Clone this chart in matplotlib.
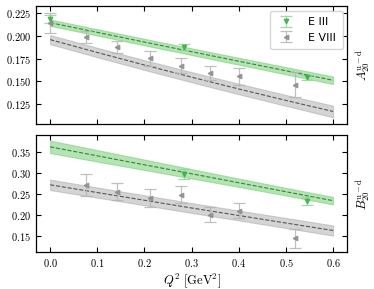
import numpy as np
import matplotlib
matplotlib.use("Agg")
from matplotlib import pyplot as plt
from matplotlib.ticker import FuncFormatter, MultipleLocator

plt.rcParams['mathtext.fontset'] = 'cm'
plt.rcParams['font.family'] = ['DejaVu Sans']

# ---- data ----
# E III (green) points
q2_e3_A = [0.0, 0.283, 0.545]
A_e3 = [0.2187, 0.1875, 0.1544]
A_e3_err = [0.004, 0.0033, 0.003]
q2_e3_B = [0.283, 0.545]
B_e3 = [0.298, 0.2338]
B_e3_err = [0.011, 0.010]

# E VIII (gray) points
q2_e8_A = [0.0, 0.075, 0.142, 0.212, 0.277, 0.340, 0.401, 0.520]
A_e8 = [0.2145, 0.1990, 0.1880, 0.1754, 0.1674, 0.1595, 0.1555, 0.1465]
A_e8_err = [0.0107, 0.007, 0.0068, 0.008, 0.0086, 0.0075, 0.0095, 0.0138]
q2_e8_B = [0.075, 0.142, 0.212, 0.277, 0.340, 0.401, 0.520]
B_e8 = [0.2715, 0.2555, 0.2396, 0.2483, 0.2007, 0.2096, 0.1443]
B_e8_err = [0.026, 0.021, 0.0216, 0.0208, 0.0173, 0.018, 0.023]

# fit bands (centre, half width) at these Q^2 nodes
q2_band = [0.0, 0.1, 0.2, 0.3, 0.4, 0.5, 0.6]
A_e3_band = [0.2147, 0.2040, 0.1933, 0.1827, 0.1722, 0.1617, 0.1512]
A_e3_bw = [0.0035, 0.0035, 0.0036, 0.0037, 0.0038, 0.0040, 0.0042]
A_e8_band = [0.1960, 0.1818, 0.1680, 0.1546, 0.1416, 0.1290, 0.1168]
A_e8_bw = [0.0050, 0.0052, 0.0054, 0.0056, 0.0058, 0.0060, 0.0064]
B_e3_band = [0.3630, 0.3415, 0.3200, 0.2985, 0.2770, 0.2555, 0.2340]
B_e3_bw = [0.0150, 0.0138, 0.0125, 0.0112, 0.0100, 0.0092, 0.0090]
B_e8_band = [0.2720, 0.2535, 0.2350, 0.2165, 0.1985, 0.1805, 0.1625]
B_e8_bw = [0.0125, 0.0122, 0.0120, 0.0118, 0.0118, 0.0120, 0.0122]

green_fill = '#6cc96c'
green_pt = '#3fae49'
gray_fill = '#a0a0a0'
gray_pt = '#8c8c8c'

fig = plt.figure(figsize=(3.74, 2.89), dpi=100)
ax1 = fig.add_axes([0.0963, 0.571, 0.832, 0.408])
ax2 = fig.add_axes([0.0963, 0.128, 0.832, 0.405])


def panel(ax, band_c, band_w, band8_c, band8_w, x3, y3, e3, x8, y8, e8):
    qb = np.array(q2_band)
    c3 = np.array(band_c); w3 = np.array(band_w)
    c8 = np.array(band8_c); w8 = np.array(band8_w)
    ax.fill_between(qb, c3 - w3, c3 + w3, color=green_fill, alpha=0.5, lw=0.8)
    ax.plot(qb, c3, '--', color='#2a8a2a', lw=0.8)
    ax.fill_between(qb, c8 - w8, c8 + w8, color=gray_fill, alpha=0.45, lw=0.8)
    ax.plot(qb, c8, '--', color='#555555', lw=0.8)
    h3 = ax.errorbar(x3, y3, yerr=e3, fmt='v', ms=3.2, color=green_pt, ecolor='#8fd595',
                     elinewidth=0.9, capsize=4, capthick=0.9, alpha=0.85, label='E III')
    h8 = ax.errorbar(x8, y8, yerr=e8, fmt='<', ms=3.2, color=gray_pt, ecolor='#b5b5b5',
                     elinewidth=0.9, capsize=4, capthick=0.9, alpha=0.85, label='E VIII')
    ax.set_xlim(-0.03, 0.63)
    ax.tick_params(direction='in', top=True, right=True, length=3.5, width=0.8, labelsize=7.5)
    ax.xaxis.set_major_locator(MultipleLocator(0.1))
    for s in ax.spines.values():
        s.set_linewidth(0.9)
    return h3, h8


h3, h8 = panel(ax1, A_e3_band, A_e3_bw, A_e8_band, A_e8_bw,
               q2_e3_A, A_e3, A_e3_err, q2_e8_A, A_e8, A_e8_err)
ax1.set_ylim(0.103, 0.233)
ax1.yaxis.set_major_locator(MultipleLocator(0.025))
ax1.yaxis.set_major_formatter(FuncFormatter(lambda v, p: r'$%.3f$' % v))
ax1.set_xticklabels([])
ax1.legend(loc='upper right', fontsize=8, frameon=True, handlelength=1.6,
           borderpad=0.6, labelspacing=0.5, handletextpad=1.2, borderaxespad=0.4)
ax1.yaxis.set_label_position('right')
ax1.set_ylabel(r'$A_{20}^{\mathrm{u-d}}$', fontsize=9, labelpad=4)

panel(ax2, B_e3_band, B_e3_bw, B_e8_band, B_e8_bw,
      q2_e3_B, B_e3, B_e3_err, q2_e8_B, B_e8, B_e8_err)
ax2.set_ylim(0.111, 0.3915)
ax2.yaxis.set_major_locator(MultipleLocator(0.05))
ax2.yaxis.set_major_formatter(FuncFormatter(lambda v, p: r'$%.2f$' % v))
ax2.xaxis.set_major_formatter(FuncFormatter(lambda v, p: r'$%.1f$' % v))
ax2.yaxis.set_label_position('right')
ax2.set_ylabel(r'$B_{20}^{\mathrm{u-d}}$', fontsize=9, labelpad=4)
ax2.set_xlabel(r'$Q^2\ [\mathrm{GeV}^2]$', fontsize=9, labelpad=2)

fig.savefig('out.png', dpi=100)
